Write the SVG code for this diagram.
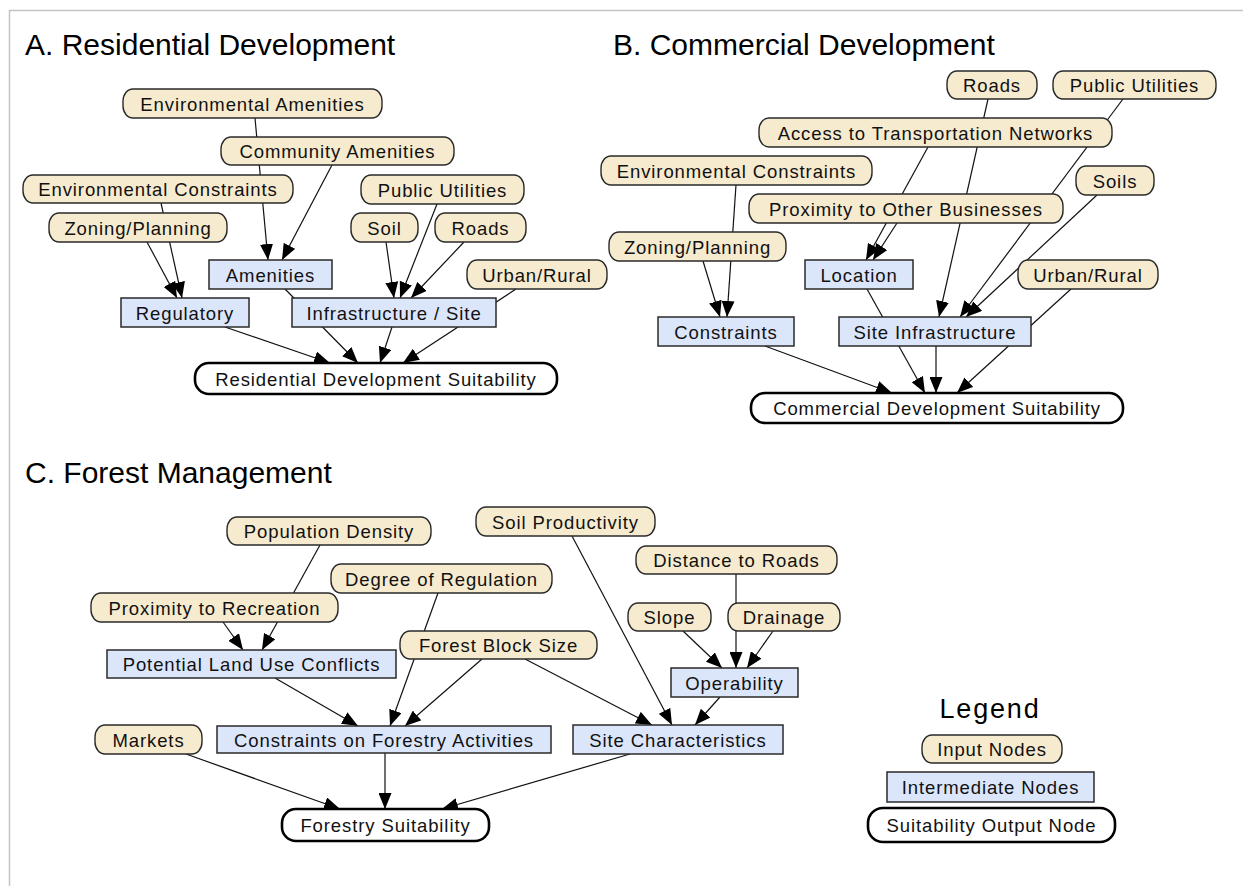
<svg xmlns="http://www.w3.org/2000/svg" width="1243" height="886" viewBox="0 0 1243 886">
<defs>
<style>
.frame{fill:none;stroke:#c4c4c4;stroke-width:1.5}
.title{font-family:"Liberation Sans",Arial,sans-serif;font-size:30px;fill:#000}
.lg{font-family:"Liberation Sans",Arial,sans-serif;font-size:27px;letter-spacing:1.8px;fill:#000}
.lbl{font-family:"Liberation Sans",Arial,sans-serif;font-size:18.5px;letter-spacing:0.9px;fill:#111;text-anchor:middle}
.in rect{fill:#f6ebcf;stroke:#2a2a2a;stroke-width:1.4}
.mid rect{fill:#dce6fb;stroke:#2a2a2a;stroke-width:1.5}
.out rect{fill:#fff;stroke:#000;stroke-width:2.6}
.edges line{stroke:#111;stroke-width:1.2}
</style>
<marker id="ah" markerUnits="userSpaceOnUse" markerWidth="16" markerHeight="13" refX="16" refY="6.5" orient="auto">
<path d="M0,0 L16,6.5 L0,13 z" fill="#000"/>
</marker>
</defs>
<rect x="9.5" y="10.5" width="1240" height="880" class="frame"/>
<text class="title" x="25" y="55">A. Residential Development</text>
<text class="title" x="613" y="55">B. Commercial Development</text>
<text class="title" x="25" y="483">C. Forest Management</text>

<g id="connectors" class="edges">
<line x1="255" y1="118" x2="268" y2="260" marker-end="url(#ah)"/>
<line x1="332" y1="165" x2="282" y2="260" marker-end="url(#ah)"/>
<line x1="161" y1="203" x2="182" y2="298" marker-end="url(#ah)"/>
<line x1="147" y1="242" x2="177" y2="298" marker-end="url(#ah)"/>
<line x1="285" y1="289" x2="358" y2="363" marker-end="url(#ah)"/>
<line x1="225" y1="327" x2="330" y2="363" marker-end="url(#ah)"/>
<line x1="392" y1="327" x2="380" y2="363" marker-end="url(#ah)"/>
<line x1="516" y1="289" x2="403" y2="363" marker-end="url(#ah)"/>
<line x1="386" y1="242" x2="394" y2="298" marker-end="url(#ah)"/>
<line x1="437" y1="204" x2="400" y2="298" marker-end="url(#ah)"/>
<line x1="464" y1="242" x2="411" y2="298" marker-end="url(#ah)"/>

<line x1="988" y1="99" x2="939" y2="317" marker-end="url(#ah)"/>
<line x1="1123" y1="99" x2="960" y2="317" marker-end="url(#ah)"/>
<line x1="1097" y1="195" x2="966" y2="317" marker-end="url(#ah)"/>
<line x1="928" y1="147" x2="866" y2="260" marker-end="url(#ah)"/>
<line x1="897" y1="223" x2="873" y2="260" marker-end="url(#ah)"/>
<line x1="736" y1="185" x2="727" y2="317" marker-end="url(#ah)"/>
<line x1="703" y1="261" x2="720" y2="317" marker-end="url(#ah)"/>
<line x1="867" y1="289" x2="925" y2="393" marker-end="url(#ah)"/>
<line x1="765" y1="346" x2="892" y2="393" marker-end="url(#ah)"/>
<line x1="936" y1="346" x2="936" y2="393" marker-end="url(#ah)"/>
<line x1="1071" y1="289" x2="957" y2="393" marker-end="url(#ah)"/>

<line x1="320" y1="545" x2="262" y2="650" marker-end="url(#ah)"/>
<line x1="223" y1="622" x2="243" y2="650" marker-end="url(#ah)"/>
<line x1="275" y1="678" x2="358" y2="726" marker-end="url(#ah)"/>
<line x1="438" y1="593" x2="390" y2="726" marker-end="url(#ah)"/>
<line x1="482" y1="659" x2="405" y2="726" marker-end="url(#ah)"/>
<line x1="525" y1="659" x2="652" y2="725" marker-end="url(#ah)"/>
<line x1="572" y1="536" x2="672" y2="725" marker-end="url(#ah)"/>
<line x1="720" y1="697" x2="695" y2="725" marker-end="url(#ah)"/>
<line x1="736" y1="574" x2="736" y2="668" marker-end="url(#ah)"/>
<line x1="683" y1="631" x2="722" y2="668" marker-end="url(#ah)"/>
<line x1="773" y1="631" x2="747" y2="668" marker-end="url(#ah)"/>
<line x1="186" y1="754" x2="340" y2="809" marker-end="url(#ah)"/>
<line x1="385" y1="753" x2="385" y2="809" marker-end="url(#ah)"/>
<line x1="630" y1="754" x2="442" y2="809" marker-end="url(#ah)"/>
</g>

<!-- Section A -->
<g id="a_envam" class="in"><rect x="123" y="89" width="259" height="29" rx="10" ry="12"/><text class="lbl" x="252.5" y="110.5">Environmental Amenities</text></g>
<g id="a_comam" class="in"><rect x="221" y="137" width="233" height="28" rx="10" ry="12"/><text class="lbl" x="337.5" y="158">Community Amenities</text></g>
<g id="a_envcon" class="in"><rect x="23" y="175" width="270" height="28" rx="10" ry="12"/><text class="lbl" x="158" y="196">Environmental Constraints</text></g>
<g id="a_zon" class="in"><rect x="49" y="213" width="178" height="29" rx="10" ry="12"/><text class="lbl" x="138" y="234.5">Zoning/Planning</text></g>
<g id="a_pu" class="in"><rect x="361" y="175" width="163" height="29" rx="10" ry="12"/><text class="lbl" x="442.5" y="196.5">Public Utilities</text></g>
<g id="a_soil" class="in"><rect x="351" y="213" width="67" height="29" rx="10" ry="12"/><text class="lbl" x="384.5" y="234.5">Soil</text></g>
<g id="a_roads" class="in"><rect x="435" y="213" width="91" height="29" rx="10" ry="12"/><text class="lbl" x="480.5" y="234.5">Roads</text></g>
<g id="a_ur" class="in"><rect x="467" y="260" width="140" height="29" rx="10" ry="12"/><text class="lbl" x="537" y="281.5">Urban/Rural</text></g>
<g id="a_amen" class="mid"><rect x="209" y="260" width="123" height="29"/><text class="lbl" x="270.5" y="281.5">Amenities</text></g>
<g id="a_reg" class="mid"><rect x="121" y="298" width="128" height="29"/><text class="lbl" x="185" y="319.5">Regulatory</text></g>
<g id="a_infra" class="mid"><rect x="292" y="298" width="204" height="29"/><text class="lbl" x="394" y="319.5">Infrastructure / Site</text></g>
<g id="a_out" class="out"><rect x="195" y="363" width="362" height="31" rx="14" ry="14"/><text class="lbl" x="376" y="385.5">Residential Development Suitability</text></g>

<!-- Section B -->
<g id="b_roads" class="in"><rect x="947" y="71" width="90" height="28" rx="10" ry="12"/><text class="lbl" x="992" y="92">Roads</text></g>
<g id="b_pu" class="in"><rect x="1053" y="71" width="163" height="28" rx="10" ry="12"/><text class="lbl" x="1134.5" y="92">Public Utilities</text></g>
<g id="b_access" class="in"><rect x="759" y="118" width="353" height="29" rx="10" ry="12"/><text class="lbl" x="935.5" y="139.5">Access to Transportation Networks</text></g>
<g id="b_envcon" class="in"><rect x="601" y="156" width="271" height="29" rx="10" ry="12"/><text class="lbl" x="736.5" y="177.5">Environmental Constraints</text></g>
<g id="b_prox" class="in"><rect x="749" y="194" width="314" height="29" rx="10" ry="12"/><text class="lbl" x="906" y="215.5">Proximity to Other Businesses</text></g>
<g id="b_soils" class="in"><rect x="1076" y="166" width="78" height="29" rx="10" ry="12"/><text class="lbl" x="1115" y="187.5">Soils</text></g>
<g id="b_zon" class="in"><rect x="609" y="232" width="177" height="29" rx="10" ry="12"/><text class="lbl" x="697.5" y="253.5">Zoning/Planning</text></g>
<g id="b_ur" class="in"><rect x="1018" y="260" width="140" height="29" rx="10" ry="12"/><text class="lbl" x="1088" y="281.5">Urban/Rural</text></g>
<g id="b_loc" class="mid"><rect x="805" y="260" width="108" height="29"/><text class="lbl" x="859" y="281.5">Location</text></g>
<g id="b_con" class="mid"><rect x="658" y="317" width="136" height="29"/><text class="lbl" x="726" y="338.5">Constraints</text></g>
<g id="b_site" class="mid"><rect x="839" y="317" width="192" height="29"/><text class="lbl" x="935" y="338.5">Site Infrastructure</text></g>
<g id="b_out" class="out"><rect x="751" y="393" width="372" height="30" rx="14" ry="14"/><text class="lbl" x="937" y="415">Commercial Development Suitability</text></g>

<!-- Section C -->
<g id="c_popden" class="in"><rect x="227" y="517" width="204" height="28" rx="10" ry="12"/><text class="lbl" x="329" y="538">Population Density</text></g>
<g id="c_degreg" class="in"><rect x="331" y="564" width="221" height="29" rx="10" ry="12"/><text class="lbl" x="441.5" y="585.5">Degree of Regulation</text></g>
<g id="c_proxrec" class="in"><rect x="91" y="593" width="247" height="29" rx="10" ry="12"/><text class="lbl" x="214.5" y="614.5">Proximity to Recreation</text></g>
<g id="c_fbs" class="in"><rect x="400" y="631" width="197" height="28" rx="10" ry="12"/><text class="lbl" x="498.5" y="652">Forest Block Size</text></g>
<g id="c_soilprod" class="in"><rect x="476" y="507" width="179" height="29" rx="10" ry="12"/><text class="lbl" x="565.5" y="528.5">Soil Productivity</text></g>
<g id="c_dist" class="in"><rect x="636" y="546" width="201" height="28" rx="10" ry="12"/><text class="lbl" x="736.5" y="567">Distance to Roads</text></g>
<g id="c_slope" class="in"><rect x="628" y="603" width="83" height="28" rx="10" ry="12"/><text class="lbl" x="669.5" y="624">Slope</text></g>
<g id="c_drain" class="in"><rect x="728" y="603" width="112" height="28" rx="10" ry="12"/><text class="lbl" x="784" y="624">Drainage</text></g>
<g id="c_markets" class="in"><rect x="95" y="725" width="107" height="29" rx="10" ry="12"/><text class="lbl" x="148.5" y="746.5">Markets</text></g>
<g id="c_plu" class="mid"><rect x="107" y="650" width="289" height="28"/><text class="lbl" x="251.5" y="671">Potential Land Use Conflicts</text></g>
<g id="c_cfa" class="mid"><rect x="217" y="726" width="334" height="27"/><text class="lbl" x="384" y="746.5">Constraints on Forestry Activities</text></g>
<g id="c_op" class="mid"><rect x="671" y="668" width="127" height="29"/><text class="lbl" x="734.5" y="689.5">Operability</text></g>
<g id="c_site" class="mid"><rect x="573" y="725" width="210" height="29"/><text class="lbl" x="678" y="746.5">Site Characteristics</text></g>
<g id="c_out" class="out"><rect x="282" y="809" width="207" height="32" rx="14" ry="14"/><text class="lbl" x="385.5" y="832">Forestry Suitability</text></g>

<!-- Legend -->
<g id="legend">
<text class="lg" x="990" y="718" text-anchor="middle">Legend</text>
<g id="lg_in" class="in"><rect x="922" y="735" width="140" height="28" rx="10" ry="12"/><text class="lbl" x="992" y="756">Input Nodes</text></g>
<g id="lg_mid" class="mid"><rect x="887" y="772" width="207" height="30"/><text class="lbl" x="990.5" y="794">Intermediate Nodes</text></g>
<g id="lg_out" class="out"><rect x="868" y="808" width="247" height="34" rx="15" ry="15"/><text class="lbl" x="991.5" y="832">Suitability Output Node</text></g>
</g>
</svg>
